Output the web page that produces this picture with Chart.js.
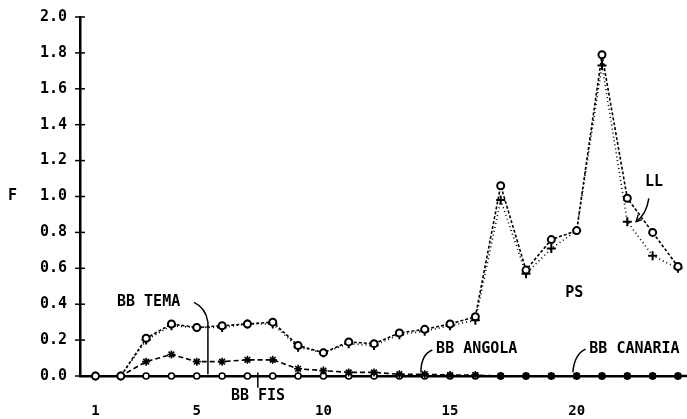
<!DOCTYPE html>
<html><head><meta charset="utf-8">
<script src="https://cdn.jsdelivr.net/npm/chart.js@4"></script>
<style>html,body{margin:0;padding:0;background:#fff}#wrap{width:687px;height:419px}</style>
</head><body><div id="wrap"><canvas id="c"></canvas></div>
<script>
const positions = [1,2,3,4,5,6,7,8,9,10,11,12,13,14,15,16,17,18,19,20,21,22,23,24];
const psValues = [0,0,0.21,0.29,0.27,0.28,0.29,0.30,0.17,0.13,0.19,0.18,0.24,0.26,0.29,0.33,1.06,0.59,0.76,0.81,1.79,0.99,0.80,0.61];
const llValues = [0,0,0.20,0.28,0.27,0.27,0.29,0.29,0.16,0.13,0.18,0.17,0.23,0.25,0.28,0.31,0.98,0.57,0.71,0.81,1.73,0.86,0.67,0.60];
const temaValues = [0,0,0.08,0.12,0.08,0.08,0.09,0.09,0.04,0.03,0.02,0.02,0.01,0.01,0.005,0.005,0,0,0,0,0,0,0,0];
const baseValues = [0,0,0,0,0,0,0,0,0,0,0,0,0,0,0,0,0,0,0,0,0,0,0,0];
const xTickValues = [1,5,10,15,20];
const yTickValues = [0,0.2,0.4,0.6,0.8,1.0,1.2,1.4,1.6,1.8,2.0];

const FONT = 'DejaVu Sans Mono';
const toPts = arr => positions.map((x,i)=>({x:x,y:arr[i]}));

const decor = {
  id:'decor',
  afterDraw(chart){
    const ctx = chart.ctx, xs = chart.scales.x, ys = chart.scales.y;
    const P = (a,b)=>[xs.getPixelForValue(a), ys.getPixelForValue(b)];
    const ax = xs.left;
    ctx.save();
    ctx.strokeStyle='#000'; ctx.fillStyle='#000';
    ctx.lineWidth=2.5;
    ctx.beginPath(); ctx.moveTo(xs.right, ys.bottom); ctx.lineTo(chart.width, ys.bottom); ctx.stroke();
    ctx.lineWidth=1.5;
    yTickValues.forEach(v=>{
      const y = ys.getPixelForValue(v);
      ctx.beginPath(); ctx.moveTo(ax-5,y); ctx.lineTo(ax+5,y); ctx.stroke();
    });
    ctx.font = 'bold 15px '+FONT;
    ctx.textBaseline='middle';
    ctx.textAlign='left';
    ctx.fillText('F', 8, ys.getPixelForValue(1.0));
    let p;
    p=P(1.85,0.41); ctx.fillText('BB TEMA', p[0], p[1]);
    p=P(6.35,-0.11); ctx.fillText('BB FIS', p[0], p[1]);
    p=P(14.45,0.15); ctx.fillText('BB ANGOLA', p[0], p[1]);
    p=P(20.5,0.15); ctx.fillText('BB CANARIA', p[0], p[1]);
    p=P(19.55,0.46); ctx.fillText('PS', p[0], p[1]);
    p=P(22.7,1.08); ctx.fillText('LL', p[0], p[1]);
    ctx.lineWidth=1.5;
    let a=P(4.81,0.41), b=P(5.44,0.30), c=P(5.44,0.01), q=P(5.35,0.38);
    ctx.beginPath(); ctx.moveTo(a[0]+2,a[1]); ctx.quadraticCurveTo(q[0],q[1],b[0],b[1]); ctx.lineTo(c[0],c[1]); ctx.stroke();
    a=P(7.41,-0.065); b=P(7.41,0.02);
    ctx.beginPath(); ctx.moveTo(a[0],a[1]); ctx.lineTo(b[0],b[1]); ctx.stroke();
    a=P(14.3,0.145); q=P(13.85,0.12); b=P(13.85,0.02);
    ctx.beginPath(); ctx.moveTo(a[0],a[1]); ctx.quadraticCurveTo(q[0],q[1],b[0],b[1]); ctx.stroke();
    a=P(20.35,0.15); q=P(19.9,0.12); b=P(19.85,0.02);
    ctx.beginPath(); ctx.moveTo(a[0],a[1]); ctx.quadraticCurveTo(q[0],q[1],b[0],b[1]); ctx.stroke();
    a=P(22.85,0.99); q=P(22.75,0.9); b=P(22.35,0.86);
    ctx.beginPath(); ctx.moveTo(a[0],a[1]); ctx.quadraticCurveTo(q[0],q[1],b[0],b[1]); ctx.stroke();
    ctx.beginPath(); ctx.moveTo(b[0]+6,b[1]-2); ctx.lineTo(b[0],b[1]); ctx.lineTo(b[0]+2,b[1]-7); ctx.stroke();
    ctx.restore();
  }
};

new Chart(document.getElementById('c'), {
  type:'line',
  data:{datasets:[
    {label:'PS', data:toPts(psValues), borderColor:'#000', borderWidth:1.6, borderDash:[3,2],
     pointStyle:'circle', pointRadius:3.5, pointBackgroundColor:'#fff', pointBorderColor:'#000', pointBorderWidth:2, clip:false},
    {label:'LL', data:toPts(llValues), borderColor:'#000', borderWidth:1.6, borderDash:[1,3],
     pointStyle:'cross', pointRadius:4.5, pointBorderColor:'#000', pointBorderWidth:2, clip:false},
    {label:'BB TEMA', data:toPts(temaValues), borderColor:'#000', borderWidth:1.6, borderDash:[5,3],
     pointStyle:'star', pointRadius:4, pointBorderColor:'#000', pointBorderWidth:1.6, clip:false},
    {label:'BB', data:toPts(baseValues), borderColor:'#000', borderWidth:1.6, borderDash:[2,2],
     pointStyle:'circle', pointRadius:3, pointBackgroundColor:'#fff', pointBorderColor:'#000', pointBorderWidth:1.6, clip:false}
  ]},
  options:{
    responsive:true, maintainAspectRatio:false, animation:false, devicePixelRatio:1,
    layout:{padding:{top:17,right:0,left:0,bottom:0}},
    plugins:{legend:{display:false}, tooltip:{enabled:false}},
    scales:{
      x:{type:'linear', min:0.389, max:24.10,
        afterBuildTicks:s=>{s.ticks = xTickValues.map(v=>({value:v}));},
        afterFit:s=>{s.height=43;},
        grid:{display:false},
        border:{display:true,color:'#000',width:2.5},
        ticks:{color:'#000', padding:19, maxRotation:0, autoSkip:false, font:{family:FONT,size:14,weight:'bold'},
          callback:v=>String(v)}},
      y:{min:0, max:2,
        afterBuildTicks:s=>{s.ticks = yTickValues.map(v=>({value:v}));},
        afterFit:s=>{s.width=80;},
        grid:{display:true, drawOnChartArea:false, drawTicks:true, tickLength:13, tickColor:'rgba(0,0,0,0)', color:'rgba(0,0,0,0)'},
        border:{display:true,color:'#000',width:2.5},
        ticks:{color:'#000', padding:0, font:{family:FONT,size:15,weight:'bold'},
          callback:v=>Number(v).toFixed(1)}}
    }
  },
  plugins:[decor]
});
</script></body></html>
